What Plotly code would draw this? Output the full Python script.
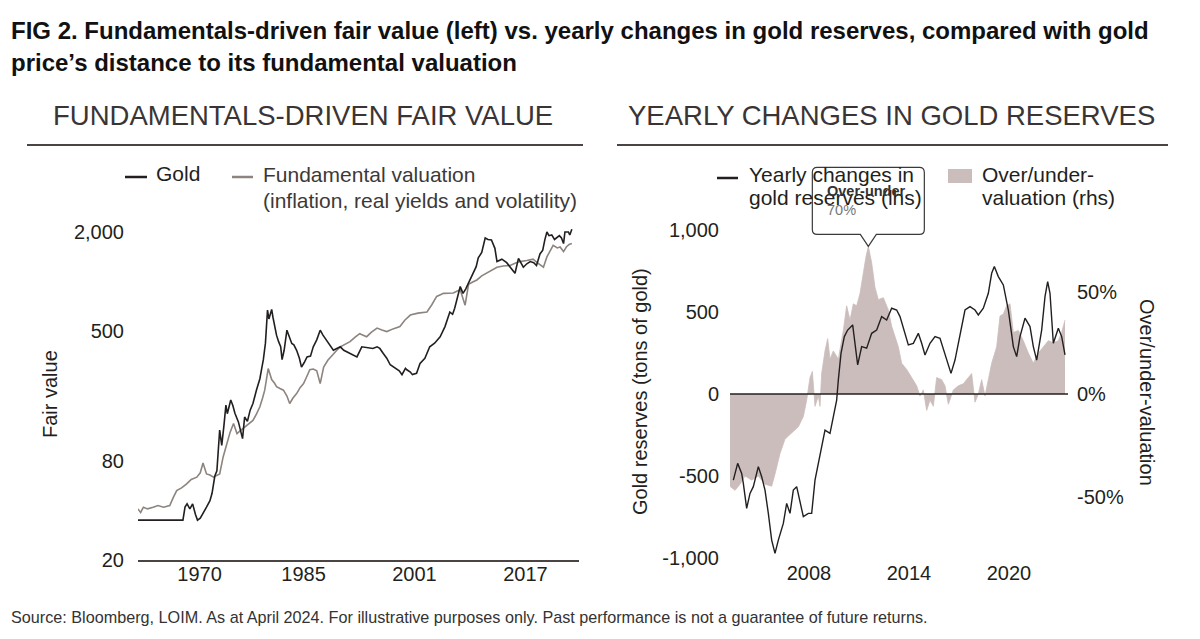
import math
import plotly.graph_objects as go

W, H = 1200, 639

# ---------------- Left panel data (decimal years, USD/oz, log scale) ----------------
gold_years = [1961.1, 1967.6, 1967.9, 1968.2, 1968.6, 1969.0, 1969.4, 1969.7, 1970.1, 1970.6,
              1971.0, 1971.5, 1971.8, 1972.2, 1972.5, 1972.9, 1973.2, 1973.5, 1973.8, 1974.0,
              1974.3, 1974.5, 1974.8, 1975.1, 1975.6, 1975.9, 1976.2, 1976.5, 1976.9, 1977.3,
              1977.7, 1978.2, 1978.5, 1978.7, 1979.0, 1979.2, 1979.5, 1979.6, 1979.8, 1980.0,
              1980.2, 1980.4, 1980.6, 1980.9, 1981.1, 1981.4, 1981.7, 1981.9, 1982.2, 1982.6,
              1982.9, 1983.3, 1983.6, 1984.0, 1984.4, 1984.7, 1985.1, 1985.5, 1986.0, 1986.4,
              1986.9, 1987.4, 1987.8, 1988.3, 1988.8, 1989.3, 1989.8, 1990.3, 1990.8, 1991.2,
              1991.9, 1992.7, 1993.4, 1994.4, 1995.0, 1995.6, 1996.0, 1996.5, 1997.0, 1997.5,
              1998.0, 1998.4, 1998.8, 1999.2, 1999.7, 1999.9, 2000.4, 2000.7, 2001.3, 2001.8,
              2002.5, 2003.2, 2003.9, 2004.7, 2005.4, 2006.1, 2006.5, 2006.8, 2007.2, 2007.6,
              2008.0, 2008.4, 2008.8, 2009.5, 2009.9, 2010.2, 2010.7, 2011.2, 2011.6, 2012.1,
              2012.6, 2012.9, 2013.6, 2014.3, 2014.9, 2015.5, 2016.0, 2016.4, 2016.7, 2017.2,
              2017.7, 2018.2, 2018.6, 2019.1, 2019.5, 2019.8, 2020.1, 2020.4, 2020.8, 2021.2,
              2021.5, 2021.9, 2022.2, 2022.5, 2022.7, 2023.2, 2023.4, 2023.7]
gold_values = [35, 35, 42, 44, 41, 44, 38, 35, 36, 39,
               42, 46, 51, 65, 70, 124, 100, 130, 176, 156,
               180, 189, 175, 157, 139, 125, 110, 149, 140, 164,
               180, 217, 235, 255, 300, 333, 420, 504, 669, 590,
               637, 674, 600, 519, 470, 429, 400, 333, 380, 504,
               460, 418, 410, 380, 340, 300, 320, 346, 350, 399,
               440, 504, 470, 438, 410, 380, 390, 399, 380, 373,
               360, 346, 399, 395, 390, 399, 390, 363, 340, 310,
               300, 294, 285, 270, 295, 289, 280, 270, 275, 316,
               340, 399, 420, 459, 530, 650, 630, 685, 800, 930,
               845, 900, 980, 1120, 1230, 1390, 1500, 1840, 1800, 1790,
               1590, 1320, 1365, 1300, 1200, 1120, 1380, 1300, 1220, 1280,
               1320, 1300, 1250, 1470, 1550, 1790, 2000, 1900, 1920, 1800,
               1850, 1900, 1840, 1700, 2000, 2000, 1920, 2080]

fund_years = [1961.1, 1961.5, 1961.9, 1962.5, 1963.3, 1964.0, 1964.8, 1965.7, 1966.2, 1966.7,
              1967.4, 1968.1, 1968.8, 1969.6, 1970.1, 1970.5, 1971.0, 1971.5, 1972.0, 1972.5,
              1972.9, 1973.4, 1973.9, 1974.4, 1974.9, 1975.4, 1975.8, 1976.3, 1977.0, 1977.7,
              1978.2, 1978.7, 1979.1, 1979.4, 1979.9, 1980.4, 1980.8, 1981.1, 1981.6, 1982.1,
              1982.6, 1983.0, 1983.5, 1984.0, 1984.5, 1985.0, 1985.5, 1985.9, 1986.4, 1986.9,
              1987.4, 1987.9, 1988.5, 1989.3, 1989.8, 1990.3, 1991.0, 1991.7, 1992.4, 1993.1,
              1993.6, 1994.1, 1994.8, 1995.6, 1996.3, 1997.0, 1998.0, 1998.9, 1999.6, 2000.4,
              2001.5, 2002.8, 2003.5, 2004.2, 2005.2, 2006.0, 2006.6, 2007.1, 2007.6, 2008.3,
              2008.8, 2009.4, 2010.0, 2010.7, 2011.4, 2012.1, 2012.9, 2013.8, 2014.8, 2015.5,
              2016.2, 2017.2, 2018.1, 2018.7, 2019.6, 2020.1, 2020.6, 2021.0, 2021.6, 2022.0,
              2022.5, 2022.9, 2023.3, 2023.7]
fund_values = [41, 39, 42, 41, 42, 43, 42, 43, 48, 53,
               55, 58, 62, 64, 68, 78, 67, 66, 64, 66,
               67, 85, 102, 120, 136, 118, 122, 127, 135, 142,
               155, 172, 195, 217, 294, 252, 240, 228, 222, 217,
               200, 180, 195, 207, 225, 238, 265, 289, 292, 285,
               238, 300, 330, 363, 380, 399, 415, 429, 455, 480,
               470, 460, 490, 519, 505, 494, 515, 530, 580, 623,
               640, 650, 720, 809, 845, 848, 850, 870, 888, 716,
               960, 990, 1020, 1080, 1120, 1170, 1220, 1240, 1250, 1290,
               1320, 1340, 1365, 1300, 1220, 1410, 1550, 1660, 1600, 1620,
               1520, 1620, 1680, 1700]

left_tick_years = [1970, 1985, 2001, 2017]
left_tick_labels = ["1970", "1985", "2001", "2017"]
left_y_ticks = [20, 80, 500, 2000]
left_y_labels = ["20", "80", "500", "2,000"]

# ---------------- Right panel data ----------------
res_years = [2003.46, 2003.72, 2003.96, 2004.06, 2004.26, 2004.46, 2004.66, 2004.96, 2005.16, 2005.36,
             2005.56, 2005.76, 2005.96, 2006.16, 2006.46, 2006.66, 2006.86, 2007.06, 2007.26, 2007.46,
             2007.66, 2007.96, 2008.16, 2008.36, 2008.66, 2008.96, 2009.26, 2009.46, 2009.66, 2009.76,
             2009.92, 2010.12, 2010.32, 2010.62, 2010.76, 2010.92, 2011.16, 2011.46, 2011.76, 2012.06,
             2012.36, 2012.66, 2012.96, 2013.26, 2013.46, 2013.76, 2013.96, 2014.26, 2014.56, 2014.76,
             2014.96, 2015.26, 2015.56, 2015.86, 2016.16, 2016.52, 2016.76, 2017.06, 2017.36, 2017.66,
             2017.96, 2018.16, 2018.46, 2018.76, 2018.96, 2019.12, 2019.36, 2019.66, 2019.96, 2020.26,
             2020.46, 2020.66, 2020.96, 2021.26, 2021.46, 2021.66, 2021.96, 2022.16, 2022.32, 2022.46,
             2022.66, 2022.96, 2023.16, 2023.36]
res_tons = [-525, -423, -484, -545, -697, -606, -565, -443, -504, -586,
            -728, -891, -972, -891, -789, -667, -728, -586, -565, -647,
            -748, -728, -728, -525, -362, -220, -240, -138, -37, 85,
            248, 350, 390, 421, 289, 177, 289, 279, 370, 390,
            472, 451, 523, 512, 472, 370, 299, 309, 370, 309,
            238, 309, 350, 340, 248, 126, 207, 370, 512, 533,
            512, 482, 523, 614, 736, 777, 716, 665, 512, 289,
            228, 350, 462, 411, 289, 207, 390, 594, 685, 614,
            309, 401, 350, 238]

val_years = [2003.26, 2003.56, 2003.86, 2004.16, 2004.56, 2004.96, 2005.36, 2005.76, 2005.96, 2006.26,
             2006.56, 2006.96, 2007.36, 2007.66, 2007.86, 2008.06, 2008.20, 2008.36, 2008.56, 2008.66,
             2008.76, 2008.96, 2009.12, 2009.26, 2009.46, 2009.76, 2010.06, 2010.26, 2010.46, 2010.66,
             2010.86, 2011.06, 2011.26, 2011.42, 2011.56, 2011.76, 2011.96, 2012.16, 2012.46, 2012.76,
             2012.96, 2013.16, 2013.36, 2013.56, 2013.86, 2014.16, 2014.46, 2014.66, 2014.86, 2015.06,
             2015.26, 2015.46, 2015.66, 2015.96, 2016.16, 2016.36, 2016.66, 2016.96, 2017.26, 2017.56,
             2017.76, 2017.96, 2018.16, 2018.36, 2018.56, 2018.76, 2018.96, 2019.26, 2019.46, 2019.66,
             2019.86, 2020.06, 2020.26, 2020.56, 2020.86, 2021.16, 2021.46, 2021.76, 2022.06, 2022.36,
             2022.66, 2022.96, 2023.16, 2023.36]
val_pct = [-45, -47, -44, -40, -42, -40, -44, -45, -39, -29,
           -22, -19, -16, -11, -3, 8, 11, -6, -1, -6,
           10, 21, 27, 17, 21, 17, 31, 43, 36, 44,
           43, 49, 60, 67, 72, 64, 52, 46, 47, 41,
           33, 28, 23, 15, 12, 8, 4, -1, 2, -8,
           -3, -6, 8, 7, 4, -5, 2, 4, 5, 8,
           10, -4, 0, 7, -1, 7, 15, 23, 38, 39,
           43, 44, 30, 31, 26, 20, 15, 20, 23, 26,
           25, 26, 30, 36]

right_tick_years = [2008, 2014, 2020]
right_tick_labels = ["2008", "2014", "2020"]
tons_ticks = [-1000, -500, 0, 500, 1000]
tons_labels = ["-1,000", "-500", "0", "500", "1,000"]
pct_ticks = [-50, 0, 50]
pct_labels = ["-50%", "0%", "50%"]

# ---------------- Styling ----------------
FONT = "Liberation Sans, Arial, sans-serif"
TXT = "#231f20"
GOLD_C = "#231f20"
FUND_C = "#8d847f"
FILL_C = "#cbbdbc"
RULE_C = "#4a4443"

# panel geometry (pixels)
L_X0, L_X1 = 138, 579
R_X0, R_X1 = 730, 1068
P_Y0, P_Y1 = 225, 560  # top, bottom
L_XR = [1961.12, 2024.73]
R_XR = [2003.26, 2023.54]
L_YR = [math.log10(20), math.log10(20) + (P_Y1 - P_Y0) / 164.0]
PCT_PER_PX = 50 / 102.5
TON_PER_PX = 1000 / 164.0
ZERO_PY = 394
PCT_R = [-(P_Y1 - ZERO_PY) * PCT_PER_PX, (ZERO_PY - P_Y0) * PCT_PER_PX]
TON_R = [-(P_Y1 - ZERO_PY) * TON_PER_PX, (ZERO_PY - P_Y0) * TON_PER_PX]


def fx(px):
    return px / W


def fy(py):
    return 1 - py / H


fig = go.Figure()
fig.add_trace(go.Scatter(x=fund_years, y=fund_values, xaxis="x", yaxis="y", mode="lines",
                         line=dict(color=FUND_C, width=1.6), name="Fundamental valuation",
                         showlegend=False, hoverinfo="skip"))
fig.add_trace(go.Scatter(x=gold_years, y=gold_values, xaxis="x", yaxis="y", mode="lines",
                         line=dict(color=GOLD_C, width=1.6), name="Gold",
                         showlegend=False, hoverinfo="skip"))
fig.add_trace(go.Scatter(x=val_years, y=val_pct, xaxis="x2", yaxis="y3", mode="lines",
                         fill="tozeroy", fillcolor=FILL_C, line=dict(color=FILL_C, width=0.8),
                         name="Over/under-valuation (rhs)", showlegend=False, hoverinfo="skip"))
fig.add_trace(go.Scatter(x=res_years, y=res_tons, xaxis="x2", yaxis="y4", mode="lines",
                         line=dict(color=GOLD_C, width=1.4),
                         name="Yearly changes in gold reserves (lhs)", showlegend=False,
                         hoverinfo="skip"))

tickfont = dict(family=FONT, size=20, color=TXT)
ydom = [fy(P_Y1), fy(P_Y0)]
fig.update_layout(
    width=W, height=H, margin=dict(l=0, r=0, t=0, b=0, autoexpand=False),
    paper_bgcolor="white", plot_bgcolor="white", showlegend=False,
    xaxis=dict(domain=[fx(L_X0), fx(L_X1)], range=L_XR, anchor="y", tickvals=left_tick_years,
               ticktext=left_tick_labels, showgrid=False, zeroline=False, showline=True,
               linecolor=RULE_C, linewidth=1.5, ticks="", tickfont=tickfont, ticklabelstandoff=-5),
    yaxis=dict(domain=ydom, type="log", range=L_YR, anchor="x", tickvals=left_y_ticks,
               ticktext=left_y_labels, showgrid=False, zeroline=False, showline=False, ticks="",
               tickfont=tickfont, ticklabelstandoff=13),
    xaxis2=dict(domain=[fx(R_X0), fx(R_X1)], range=R_XR, anchor="y3", tickvals=right_tick_years,
                ticktext=right_tick_labels, showgrid=False, zeroline=False, showline=False,
                ticks="", tickfont=tickfont, ticklabelstandoff=-1),
    yaxis3=dict(domain=ydom, range=PCT_R, anchor="x2", side="right", tickvals=pct_ticks,
                ticktext=pct_labels, showgrid=False, zeroline=False, showline=False, ticks="",
                tickfont=tickfont, ticklabelstandoff=8),
    yaxis4=dict(domain=ydom, range=TON_R, anchor="x2", side="left", overlaying="y3",
                tickvals=tons_ticks, ticktext=tons_labels, showgrid=False, zeroline=False,
                showline=False, ticks="", tickfont=tickfont, ticklabelstandoff=10),
)

shapes = []
# zero line of the right panel
shapes.append(dict(type="line", xref="x2 domain", x0=0, x1=1, yref="y4", y0=0, y1=0,
                   line=dict(color=GOLD_C, width=1.5), layer="above"))
# panel title rules
shapes.append(dict(type="line", xref="paper", yref="paper", x0=fx(27), x1=fx(583), y0=fy(145),
                   y1=fy(145), line=dict(color=RULE_C, width=2.2)))
shapes.append(dict(type="line", xref="paper", yref="paper", x0=fx(617), x1=fx(1168), y0=fy(145),
                   y1=fy(145), line=dict(color=RULE_C, width=2.2)))
# legend keys
shapes.append(dict(type="line", xref="paper", yref="paper", x0=fx(125), x1=fx(147), y0=fy(177),
                   y1=fy(177), line=dict(color=GOLD_C, width=2.5)))
shapes.append(dict(type="line", xref="paper", yref="paper", x0=fx(232), x1=fx(253), y0=fy(177),
                   y1=fy(177), line=dict(color=FUND_C, width=2.5)))
shapes.append(dict(type="line", xref="paper", yref="paper", x0=fx(717), x1=fx(738), y0=fy(178),
                   y1=fy(178), line=dict(color=GOLD_C, width=2.5)))
shapes.append(dict(type="rect", xref="paper", yref="paper", x0=fx(948), x1=fx(972), y0=fy(183),
                   y1=fy(169), line=dict(width=0), fillcolor=FILL_C))

# callout pointing at the peak of the over/under-valuation series
peak_i = max(range(len(val_pct)), key=lambda i: val_pct[i])
tip_px = R_X0 + (val_years[peak_i] - R_XR[0]) / (R_XR[1] - R_XR[0]) * (R_X1 - R_X0)
tip_py = P_Y1 - (val_pct[peak_i] - PCT_R[0]) / (PCT_R[1] - PCT_R[0]) * (P_Y1 - P_Y0)
bl, br = tip_px - 56, tip_px + 56
bt, bb = tip_py - 79, tip_py - 12
r = 5
pts = [("M", bl + r, bt), ("L", br - r, bt), ("Q", br, bt, br, bt + r), ("L", br, bb - r),
       ("Q", br, bb, br - r, bb), ("L", tip_px + 8, bb), ("L", tip_px, tip_py),
       ("L", tip_px - 8, bb), ("L", bl + r, bb), ("Q", bl, bb, bl, bb - r), ("L", bl, bt + r),
       ("Q", bl, bt, bl + r, bt)]
path = ""
for p in pts:
    if p[0] == "Q":
        path += f"Q{fx(p[1]):.5f},{fy(p[2]):.5f} {fx(p[3]):.5f},{fy(p[4]):.5f} "
    else:
        path += f"{p[0]}{fx(p[1]):.5f},{fy(p[2]):.5f} "
path += "Z"
shapes.append(dict(type="path", xref="paper", yref="paper", path=path,
                   line=dict(color="#3a3a3a", width=1.2), fillcolor="rgba(0,0,0,0)", layer="above"))
fig.update_layout(shapes=shapes)


def txt(px, py, text, size, family=FONT, color=TXT, xanchor="left", yanchor="middle", angle=0):
    if xanchor == "left":
        px -= 3
    fig.add_annotation(x=fx(px), y=fy(py), xref="paper", yref="paper", text=text, showarrow=False,
                       xanchor=xanchor, yanchor=yanchor, textangle=angle,
                       font=dict(family=family, size=size, color=color))


# main title
txt(12, 30, "<b>FIG 2. Fundamentals-driven fair value (left) vs. yearly changes in gold reserves, compared with gold</b>",
    24, color="#111111")
txt(12, 63, "<b>price’s distance to its fundamental valuation</b>", 24, color="#111111")
# panel titles
txt(303, 116, "FUNDAMENTALS-DRIVEN FAIR VALUE", 27.5, color="#3a3534", xanchor="center")
txt(891, 116, "YEARLY CHANGES IN GOLD RESERVES", 27.5, color="#3a3534", xanchor="center")
# legends
txt(157, 174, "Gold", 21)
txt(264, 175, "Fundamental valuation", 21, color="#3d3937")
txt(264, 200, "(inflation, real yields and volatility)", 21, color="#3d3937")
txt(750, 175, "Yearly changes in", 21)
txt(750, 197, "gold reserves (lhs)", 21)
txt(983, 175, "Over/under-", 21)
txt(983, 197, "valuation (rhs)", 21)
# callout text
txt(bl + 16, bt + 24, "<b>Over-under</b>", 14.5, color="#333333")
txt(bl + 16, bt + 43, f"{round(val_pct[peak_i] / 10) * 10}%", 14.5, color="#777777")
# axis titles
txt(50, 394, "Fair value", 20, xanchor="center", angle=-90)
txt(640, 392, "Gold reserves (tons of gold)", 20, xanchor="center", angle=-90)
txt(1147, 392, "Over/under-valuation", 20, xanchor="center", angle=90)
# source
txt(12, 617, "Source: Bloomberg, LOIM. As at April 2024. For illustrative purposes only. Past performance is not a guarantee of future returns.",
    16.2, color="#333333")

fig.write_html("out.html")
